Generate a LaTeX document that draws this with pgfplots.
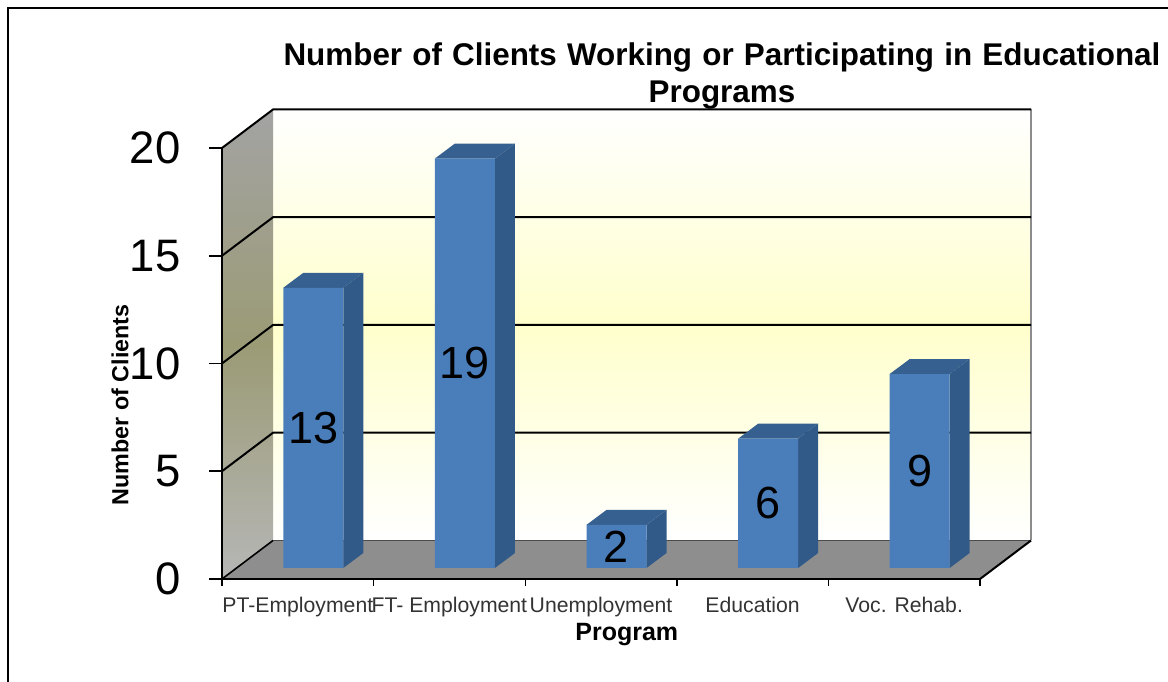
\documentclass[border=0pt]{standalone}
\usepackage{fontspec}
\setmainfont{Liberation Sans}
\usepackage{pgfplots}
\usepackage{pgfplotstable}
\pgfplotsset{compat=1.18}

\definecolor{barfront}{HTML}{4A7EBB}
\definecolor{bartop}{HTML}{36608F}
\definecolor{barside}{HTML}{325A88}
\definecolor{floorgray}{HTML}{8E8E8E}
\definecolor{wallyellow}{HTML}{FFFFCC}
\definecolor{sidetop}{HTML}{A3A3A3}
\definecolor{sidemid}{HTML}{9B9B76}
\definecolor{sidebottom}{HTML}{B6B6B6}

% Clients per program
\pgfplotstableread{
i v
0 13
1 19
2 2
3 6
4 9
}\clients

\begin{document}
\begin{tikzpicture}[x=1pt,y=1pt]
\path[use as bounding box] (0,0) rectangle (1168,682);
\draw[line width=2pt,black] (7.5,0) -- (7.5,674) -- (1168,674);
\begin{axis}[
  at={(222pt,103pt)}, anchor=south west,
  scale only axis, width=758pt, height=431pt,
  xmin=-0.5, xmax=4.5, ymin=0, ymax=20,
  clip=false, axis on top,
  axis x line*=bottom, axis y line*=left,
  axis line style={line width=2.4pt,black,-},
  xtick={0,1,2,3,4},
  xticklabels={PT-Employment,FT- Employment,Unemployment,Education,Voc. Rehab.},
  minor xtick={-0.5,0.5,1.5,2.5,3.5,4.5},
  major tick length=0pt,
  ytick={0,5,10,15,20},
  minor tick style={line width=1.4pt,black},
  minor tick length=7pt,
  tick align=outside,
  x tick label style={font=\fontsize{21.2}{25}\selectfont,text=black!80,yshift=-15pt,anchor=north},
  y tick label style={font=\fontsize{45.5}{50}\selectfont,anchor=east,xshift=-38pt},
  /pgf/number format/assume math mode=true,
  xlabel={Program},
  xlabel style={at={(axis description cs:0.534,-0.13)},anchor=center,font=\bfseries\fontsize{25}{28}\selectfont},
  ylabel={Number of Clients},
  ylabel style={at={(axis description cs:-0.1346,0.404)},anchor=center,rotate=0,font=\bfseries\fontsize{23.3}{26}\selectfont},
  title={{\spaceskip=10.2pt Number of Clients Working or Participating in Educational}\\Programs},
  title style={at={(axis description cs:0.6596,1.153)},anchor=center,align=center,font=\bfseries\fontsize{31.4}{37}\selectfont},
]
% walls and floor of the chart box
\path[top color=white,bottom color=white,middle color=wallyellow]
  ([shift={(51pt,38.5pt)}]axis cs:-0.5,0) rectangle ([shift={(51pt,38.5pt)}]axis cs:4.5,20);
\path[top color=sidetop,bottom color=sidebottom,middle color=sidemid]
  (axis cs:-0.5,0) -- ([shift={(51pt,38.5pt)}]axis cs:-0.5,0) -- ([shift={(51pt,38.5pt)}]axis cs:-0.5,20) -- (axis cs:-0.5,20) -- cycle;
\fill[floorgray] (axis cs:-0.5,0) -- ([shift={(51pt,38.5pt)}]axis cs:-0.5,0) -- ([shift={(51pt,38.5pt)}]axis cs:4.5,0) -- (axis cs:4.5,0) -- cycle;
\draw[line width=1.2pt,black!70] ([shift={(51pt,38.5pt)}]axis cs:-0.5,0) -- ([shift={(51pt,38.5pt)}]axis cs:4.5,0);
\draw[line width=2pt,black!45] ([shift={(51pt,38.5pt)}]axis cs:4.5,0) -- ([shift={(51pt,38.5pt)}]axis cs:4.5,20);
\draw[line width=2pt,black] (axis cs:4.5,0) -- ([shift={(51pt,38.5pt)}]axis cs:4.5,0);
\draw[line width=1.6pt,black] (axis cs:-0.5,0) -- ([shift={(51pt,38.5pt)}]axis cs:-0.5,0);
% horizontal rules across side wall and back wall
\pgfplotsinvokeforeach{5,10,15,20}{
  \draw[line width=2pt,black] (axis cs:-0.5,#1) -- ([shift={(51pt,38.5pt)}]axis cs:-0.5,#1) -- ([shift={(51pt,38.5pt)}]axis cs:4.5,#1);
}
% value axis ticks, longer than the category ticks
\pgfplotsinvokeforeach{0,5,10,15,20}{
  \draw[line width=1.6pt,black] (axis cs:-0.5,#1) -- ([shift={(-13pt,0pt)}]axis cs:-0.5,#1);
}

% bar tops
\addplot[fill=bartop,draw=none,xshift=15.5pt,yshift=11pt] coordinates {(-0.198,13) (-0.066,13.696) (0.33,13.696) (0.198,13)} --cycle;
\addplot[fill=bartop,draw=none,xshift=15.5pt,yshift=11pt] coordinates {(0.802,19) (0.934,19.696) (1.33,19.696) (1.198,19)} --cycle;
\addplot[fill=bartop,draw=none,xshift=15.5pt,yshift=11pt] coordinates {(1.802,2) (1.934,2.696) (2.33,2.696) (2.198,2)} --cycle;
\addplot[fill=bartop,draw=none,xshift=15.5pt,yshift=11pt] coordinates {(2.802,6) (2.934,6.696) (3.33,6.696) (3.198,6)} --cycle;
\addplot[fill=bartop,draw=none,xshift=15.5pt,yshift=11pt] coordinates {(3.802,9) (3.934,9.696) (4.33,9.696) (4.198,9)} --cycle;
% bar sides
\addplot[fill=barside,draw=none,xshift=15.5pt,yshift=11pt] coordinates {(0.198,0) (0.33,0.696) (0.33,13.696) (0.198,13)} --cycle;
\addplot[fill=barside,draw=none,xshift=15.5pt,yshift=11pt] coordinates {(1.198,0) (1.33,0.696) (1.33,19.696) (1.198,19)} --cycle;
\addplot[fill=barside,draw=none,xshift=15.5pt,yshift=11pt] coordinates {(2.198,0) (2.33,0.696) (2.33,2.696) (2.198,2)} --cycle;
\addplot[fill=barside,draw=none,xshift=15.5pt,yshift=11pt] coordinates {(3.198,0) (3.33,0.696) (3.33,6.696) (3.198,6)} --cycle;
\addplot[fill=barside,draw=none,xshift=15.5pt,yshift=11pt] coordinates {(4.198,0) (4.33,0.696) (4.33,9.696) (4.198,9)} --cycle;
% bar fronts and their value labels
\addplot[ybar,bar width=60pt,fill=barfront,draw=none,xshift=15.5pt,yshift=11pt] table[x=i,y=v] {\clients};
\addplot[draw=none,mark=none,xshift=15.5pt,yshift=11pt,
  point meta=explicit symbolic,
  nodes near coords,
  every node near coord/.style={anchor=center,font=\fontsize{45}{50}\selectfont,text=black}]
  table[x=i,y expr=\thisrow{v}/2,meta=v] {\clients};
\end{axis}
\end{tikzpicture}
\end{document}
